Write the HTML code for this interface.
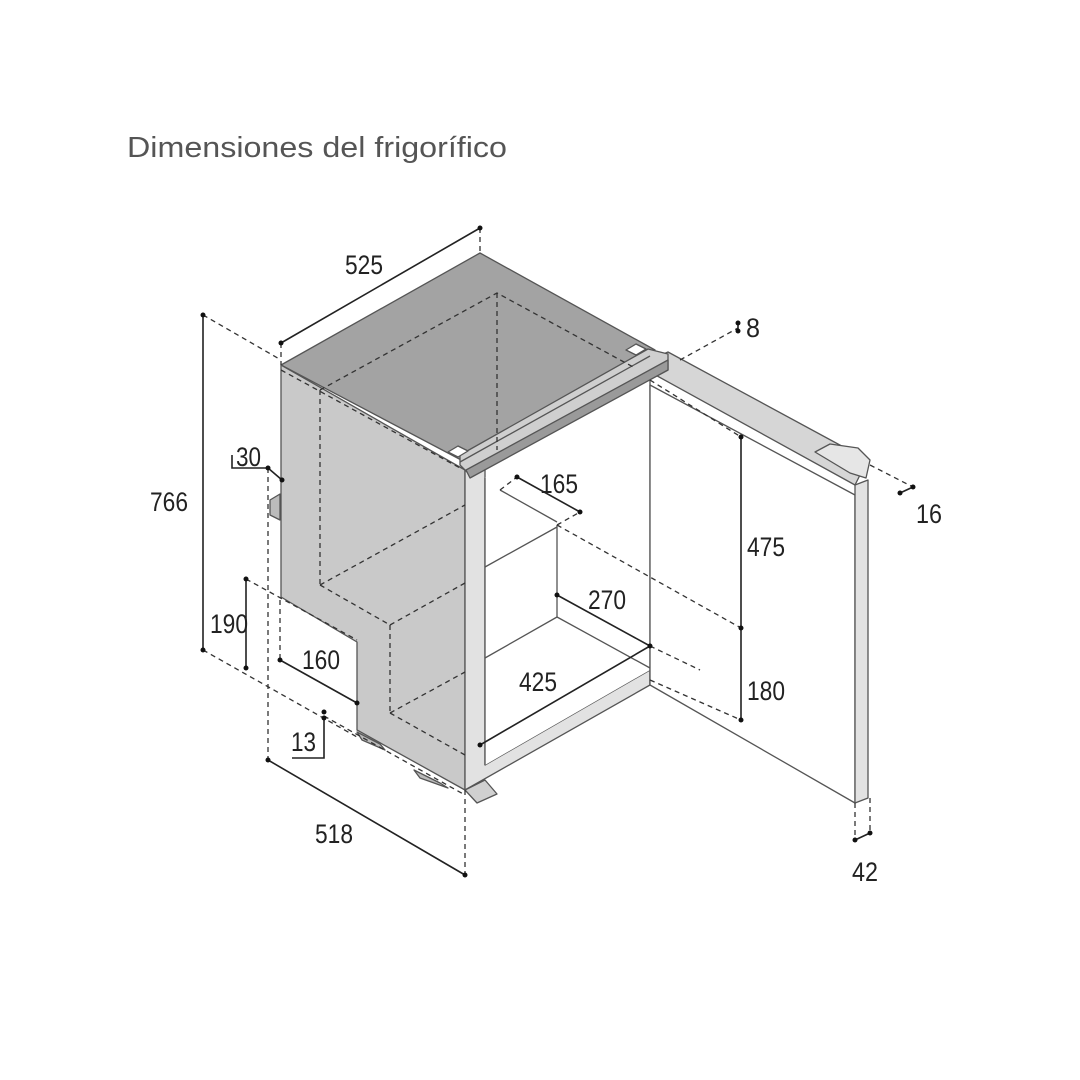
<!DOCTYPE html>
<html><head><meta charset="utf-8"><style>
html,body{margin:0;padding:0;background:#fff}
svg{display:block}
text{font-family:"Liberation Sans",sans-serif;fill:#222}
.n{font-size:27px}
</style></head><body>
<svg width="1080" height="1080" viewBox="0 0 1080 1080" xmlns="http://www.w3.org/2000/svg">
<text x="127" y="157" style="font-size:29px;fill:#555;font-weight:300" textLength="380" lengthAdjust="spacingAndGlyphs">Dimensiones del frigorífico</text>

<g stroke="#555" stroke-width="1.3" stroke-linejoin="round">
<polygon points="281,365 480,253 655,350 465,462" fill="#a3a3a3"/>
<polygon points="281,365 465,470 465,790 357,730 357,642 281,597" fill="#c9c9c9"/>
<polygon points="465,470 485,470 485,765 650,670 650,685 465,790" fill="#e2e2e2"/>
<polygon points="485,478 650,385 650,670 485,765" fill="#fff" stroke="none"/>
<line x1="485" y1="478" x2="485" y2="765"/>
<line x1="650" y1="380" x2="650" y2="685"/>
<polygon points="650,385 855,495 855,803 650,685" fill="#fff"/>
<polygon points="855,485 868,480 868,798 855,803" fill="#e2e2e2"/>
<polygon points="650,360 668,352 862,457 860,475 855,485 650,372" fill="#d6d6d6"/>
<polygon points="815,452 830,444 858,448 870,460 866,478 850,473" fill="#e6e6e6"/>
<polygon points="460,455 648,349 668,354 668,370 470,475 460,465" fill="#cfcfcf"/>
<line x1="460" y1="462" x2="650" y2="356"/>
<polygon points="466,470 668,360 668,370 470,478" fill="#9a9a9a"/>
<polygon points="448,452 458,446 468,451 458,457" fill="#fff"/>
<polygon points="626,350 636,344 646,349 636,355" fill="#fff"/>
<line x1="557" y1="525" x2="557" y2="617"/>
<line x1="485" y1="567" x2="557" y2="527"/>
<line x1="485" y1="658" x2="557" y2="617"/>
<line x1="557" y1="617" x2="650" y2="668"/>
<line x1="500" y1="490" x2="557" y2="522"/>
<polygon points="357,732 380,744 385,750 362,740" fill="#bbb"/>
<polygon points="414,770 440,783 448,788 420,778" fill="#bbb"/>
<polygon points="465,790 485,780 497,794 477,803" fill="#d0d0d0"/>
<polygon points="270,500 280,494 280,520 270,515" fill="#bbb"/>
</g>

<g stroke="#333" stroke-width="1.3" stroke-dasharray="5,4" fill="none">
<polyline points="320,390 497,293 635,368"/>
<line x1="497" y1="293" x2="497" y2="450"/>
<line x1="281" y1="370" x2="460" y2="468"/>
<line x1="320" y1="390" x2="320" y2="585"/>
<line x1="320" y1="585" x2="390" y2="625"/>
<line x1="320" y1="585" x2="465" y2="505"/>
<line x1="390" y1="625" x2="465" y2="583"/>
<line x1="390" y1="625" x2="390" y2="713"/>
<line x1="390" y1="713" x2="465" y2="755"/>
<line x1="390" y1="713" x2="465" y2="672"/>
<line x1="480" y1="228" x2="480" y2="253"/>
<line x1="281" y1="343" x2="281" y2="365"/>
<line x1="203" y1="315" x2="281" y2="360"/>
<line x1="203" y1="650" x2="357" y2="737"/>
<line x1="246" y1="579" x2="357" y2="640"/>
<line x1="268" y1="468" x2="268" y2="760"/>
<line x1="465" y1="790" x2="465" y2="875"/>
<line x1="280" y1="600" x2="280" y2="660"/>
<line x1="324" y1="716" x2="465" y2="795"/>
<line x1="500" y1="490" x2="517" y2="477"/>
<line x1="557" y1="525" x2="580" y2="512"/>
<line x1="557" y1="525" x2="741" y2="628"/>
<line x1="650" y1="380" x2="741" y2="437"/>
<line x1="650" y1="680" x2="741" y2="720"/>
<line x1="650" y1="646" x2="700" y2="670"/>
<line x1="680" y1="360" x2="738" y2="328"/>
<line x1="870" y1="465" x2="913" y2="487"/>
<line x1="855" y1="803" x2="855" y2="840"/>
<line x1="870" y1="798" x2="870" y2="833"/>
</g>

<g stroke="#222" stroke-width="1.6" fill="none">
<line x1="281" y1="343" x2="480" y2="228"/>
<line x1="203" y1="315" x2="203" y2="650"/>
<polyline points="232,455 232,468 268,468"/>
<line x1="268" y1="468" x2="282" y2="480"/>
<line x1="246" y1="579" x2="246" y2="668"/>
<line x1="280" y1="660" x2="357" y2="703"/>
<polyline points="292,758 324,758 324,716"/>
<line x1="268" y1="760" x2="465" y2="875"/>
<line x1="517" y1="477" x2="580" y2="512"/>
<line x1="557" y1="595" x2="650" y2="646"/>
<line x1="480" y1="745" x2="650" y2="646"/>
<line x1="741" y1="437" x2="741" y2="720"/>
<line x1="738" y1="323" x2="738" y2="331"/>
<line x1="900" y1="493" x2="913" y2="487"/>
<line x1="855" y1="840" x2="870" y2="833"/>
</g>
<g fill="#111">
<circle cx="281" cy="343" r="2.5"/><circle cx="480" cy="228" r="2.5"/>
<circle cx="203" cy="315" r="2.5"/><circle cx="203" cy="650" r="2.5"/>
<circle cx="268" cy="468" r="2.5"/><circle cx="282" cy="480" r="2.5"/>
<circle cx="246" cy="579" r="2.5"/><circle cx="246" cy="668" r="2.5"/>
<circle cx="280" cy="660" r="2.5"/><circle cx="357" cy="703" r="2.5"/>
<circle cx="324" cy="712" r="2.5"/><circle cx="324" cy="718" r="2.5"/>
<circle cx="268" cy="760" r="2.5"/><circle cx="465" cy="875" r="2.5"/>
<circle cx="517" cy="477" r="2.5"/><circle cx="580" cy="512" r="2.5"/>
<circle cx="557" cy="595" r="2.5"/><circle cx="650" cy="646" r="2.5"/>
<circle cx="480" cy="745" r="2.5"/>
<circle cx="741" cy="437" r="2.5"/><circle cx="741" cy="628" r="2.5"/><circle cx="741" cy="720" r="2.5"/>
<circle cx="738" cy="323" r="2.5"/><circle cx="738" cy="331" r="2.5"/>
<circle cx="900" cy="493" r="2.5"/><circle cx="913" cy="487" r="2.5"/>
<circle cx="855" cy="840" r="2.5"/><circle cx="870" cy="833" r="2.5"/>
</g>

<g class="n">
<text x="345" y="274" textLength="38" lengthAdjust="spacingAndGlyphs">525</text>
<text x="150" y="511" textLength="38" lengthAdjust="spacingAndGlyphs">766</text>
<text x="236" y="466" textLength="25" lengthAdjust="spacingAndGlyphs">30</text>
<text x="210" y="633" textLength="38" lengthAdjust="spacingAndGlyphs">190</text>
<text x="302" y="669" textLength="38" lengthAdjust="spacingAndGlyphs">160</text>
<text x="291" y="751" textLength="25" lengthAdjust="spacingAndGlyphs">13</text>
<text x="315" y="843" textLength="38" lengthAdjust="spacingAndGlyphs">518</text>
<text x="540" y="493" textLength="38" lengthAdjust="spacingAndGlyphs">165</text>
<text x="588" y="609" textLength="38" lengthAdjust="spacingAndGlyphs">270</text>
<text x="519" y="691" textLength="38" lengthAdjust="spacingAndGlyphs">425</text>
<text x="747" y="556" textLength="38" lengthAdjust="spacingAndGlyphs">475</text>
<text x="747" y="700" textLength="38" lengthAdjust="spacingAndGlyphs">180</text>
<text x="746" y="337" textLength="14" lengthAdjust="spacingAndGlyphs">8</text>
<text x="916" y="523" textLength="26" lengthAdjust="spacingAndGlyphs">16</text>
<text x="852" y="881" textLength="26" lengthAdjust="spacingAndGlyphs">42</text>
</g>
</svg>
</body></html>
